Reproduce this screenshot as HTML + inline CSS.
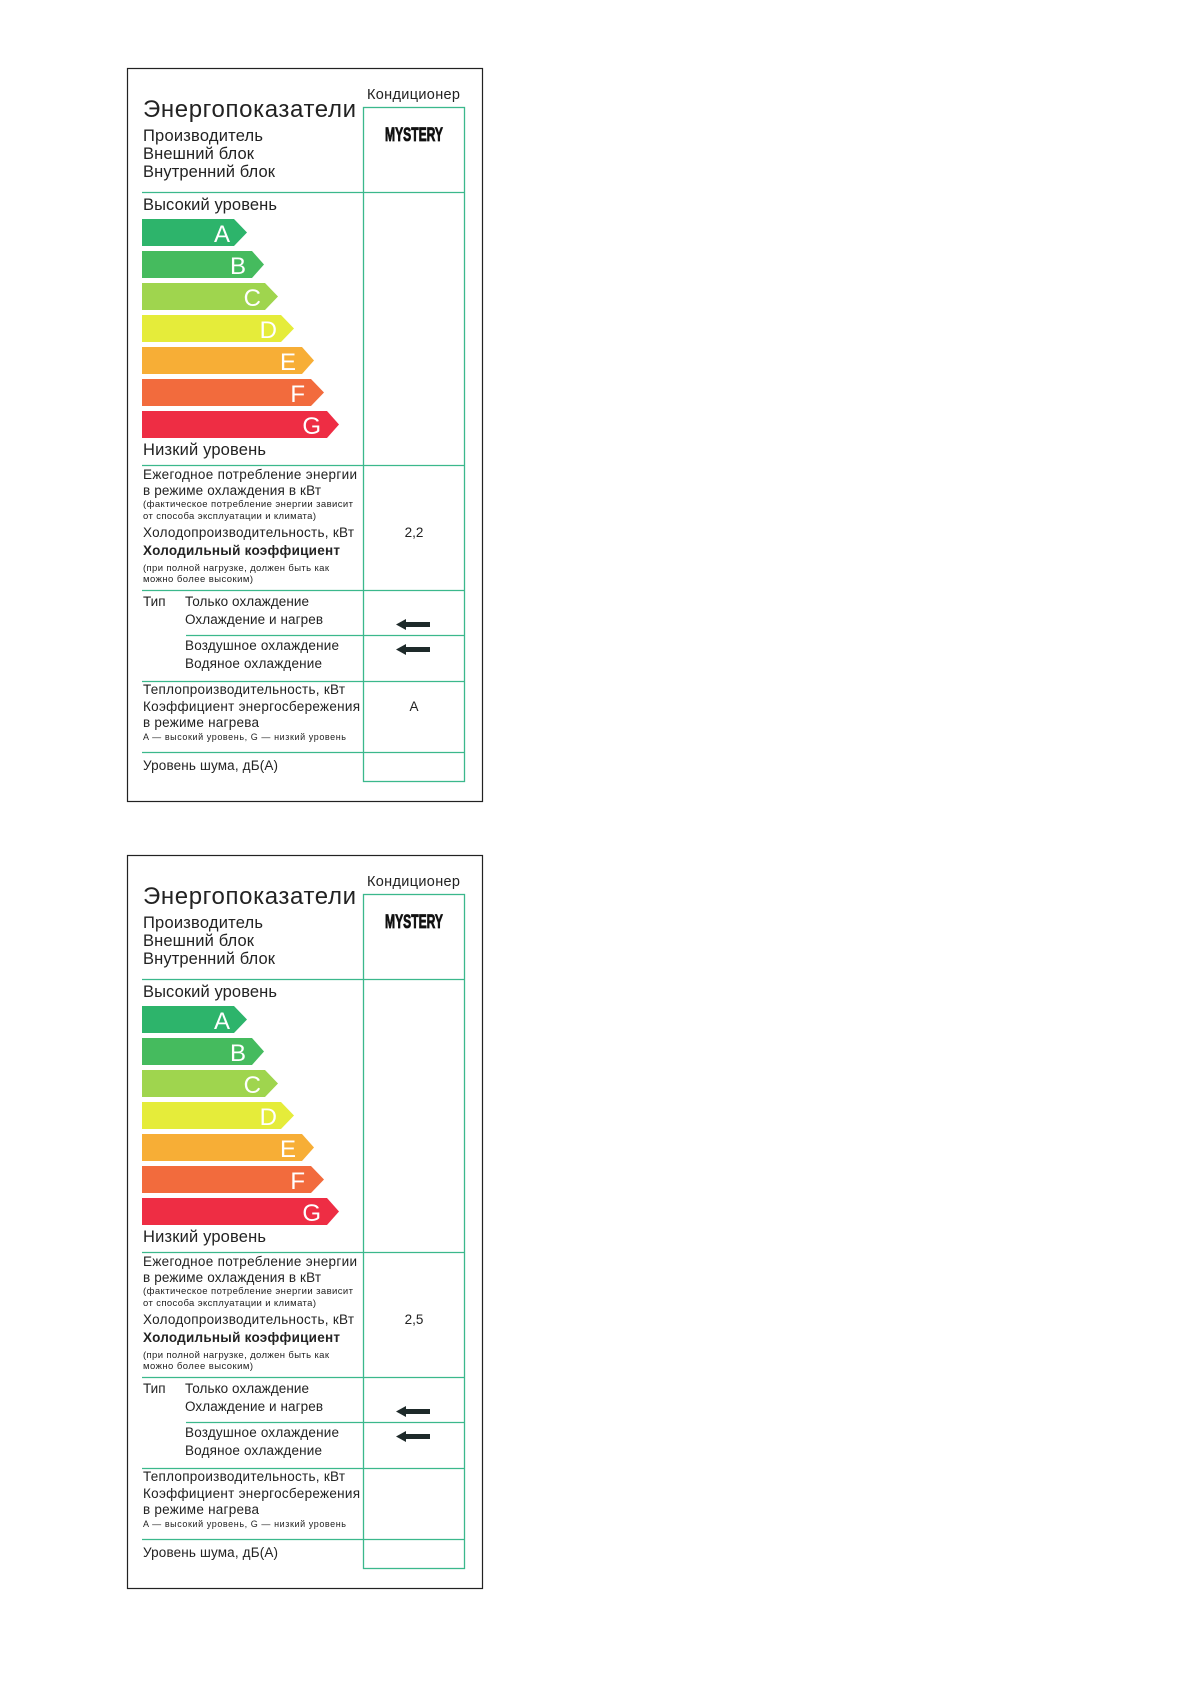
<!DOCTYPE html>
<html><head><meta charset="utf-8"><style>
html,body{margin:0;padding:0;background:#fff;}
svg{display:block}
text{font-family:"Liberation Sans",sans-serif;fill:#222}
</style></head><body>
<svg width="1190" height="1684" viewBox="0 0 1190 1684" xmlns="http://www.w3.org/2000/svg">
<defs>
<g id="lbl">
<rect x="127.5" y="68.5" width="355" height="733" fill="none" stroke="#222" stroke-width="1.2"/>
<g stroke="#3bb88c" stroke-width="1.3" fill="none">
<rect x="363.5" y="107.5" width="101" height="674"/>
<line x1="142" y1="192.5" x2="464" y2="192.5"/>
<line x1="142" y1="465.5" x2="464" y2="465.5"/>
<line x1="142" y1="590.5" x2="464" y2="590.5"/>
<line x1="186" y1="635.5" x2="464" y2="635.5"/>
<line x1="142" y1="681.5" x2="464" y2="681.5"/>
<line x1="142" y1="752.5" x2="464" y2="752.5"/>
</g>
<text x="367" y="99" font-size="14.5" textLength="93">Кондиционер</text>
<text x="143" y="117" font-size="24" textLength="213">Энергопоказатели</text>
<text x="143" y="141" font-size="16.5" textLength="120">Производитель</text>
<text x="143" y="159" font-size="16.5" textLength="111">Внешний блок</text>
<text x="143" y="177" font-size="16.5" textLength="132">Внутренний блок</text>
<text x="385" y="141" font-size="19" font-weight="bold" textLength="58" lengthAdjust="spacingAndGlyphs" style="fill:#111;stroke:#111;stroke-width:0.8">MYSTERY</text>
<text x="143" y="210" font-size="16.5" textLength="134">Высокий уровень</text>
<polygon points="142,219 234,219 247,232.5 234,246 142,246" fill="#2db46b"/>
<polygon points="142,251 252,251 264,264.5 252,278 142,278" fill="#45bb5e"/>
<polygon points="142,283 265,283 278,296.5 265,310 142,310" fill="#9fd54e"/>
<polygon points="142,315 281,315 294,328.5 281,342 142,342" fill="#e5ec3a"/>
<polygon points="142,347 302,347 314,360.5 302,374 142,374" fill="#f7ae36"/>
<polygon points="142,379 311,379 324,392.5 311,406 142,406" fill="#f26b3d"/>
<polygon points="142,411 327,411 339,424.5 327,438 142,438" fill="#ee2d44"/>
<g font-size="24" text-anchor="end">
<text x="230" y="242" style="fill:#fff">A</text>
<text x="246" y="274" style="fill:#fff">B</text>
<text x="261" y="306" style="fill:#fff">C</text>
<text x="277" y="338" style="fill:#fff">D</text>
<text x="296" y="370" style="fill:#fff">E</text>
<text x="305" y="402" style="fill:#fff">F</text>
<text x="321" y="434" style="fill:#fff">G</text>
</g>
<text x="143" y="455" font-size="16.5" textLength="123">Низкий уровень</text>
<text x="143" y="479" font-size="13.5" textLength="214">Ежегодное потребление энергии</text>
<text x="143" y="495" font-size="13.5" textLength="178">в режиме охлаждения в кВт</text>
<text x="143" y="507" font-size="9.5" textLength="210">(фактическое потребление энергии зависит</text>
<text x="143" y="519" font-size="9.5" textLength="173">от способа эксплуатации и климата)</text>
<text x="143" y="537" font-size="13.5" textLength="211">Холодопроизводительность, кВт</text>
<text x="143" y="555" font-size="13.5" font-weight="bold" textLength="197">Холодильный коэффициент</text>
<text x="143" y="571" font-size="9.5" textLength="186">(при полной нагрузке, должен быть как</text>
<text x="143" y="582" font-size="9.5" textLength="110">можно более высоким)</text>
<text x="143" y="606" font-size="13.5">Тип</text>
<text x="185" y="606" font-size="13.5" textLength="124">Только охлаждение</text>
<text x="185" y="624" font-size="13.5" textLength="138">Охлаждение и нагрев</text>
<text x="185" y="650" font-size="13.5" textLength="154">Воздушное охлаждение</text>
<text x="185" y="668" font-size="13.5" textLength="137">Водяное охлаждение</text>
<g fill="#1e2a2a">
<rect x="404" y="622" width="26" height="5"/><polygon points="396,624.5 406,619 406,630"/>
<rect x="404" y="647" width="26" height="5"/><polygon points="396,649.5 406,644 406,655"/>
</g>
<text x="143" y="694" font-size="13.5" textLength="202">Теплопроизводительность, кВт</text>
<text x="143" y="711" font-size="13.5" textLength="217">Коэффициент энергосбережения</text>
<text x="143" y="727" font-size="13.5" textLength="116">в режиме нагрева</text>
<text x="143" y="740" font-size="9" textLength="203">A — высокий уровень, G — низкий уровень</text>
<text x="143" y="770" font-size="13.5" textLength="135">Уровень шума, дБ(А)</text>
</g>
</defs>
<use href="#lbl"/>
<text x="414" y="537" font-size="13.5" text-anchor="middle">2,2</text>
<text x="414" y="711" font-size="13.5" text-anchor="middle">A</text>
<g transform="translate(0,787)">
<use href="#lbl"/>
<text x="414" y="537" font-size="13.5" text-anchor="middle">2,5</text>
</g>
</svg>
</body></html>
